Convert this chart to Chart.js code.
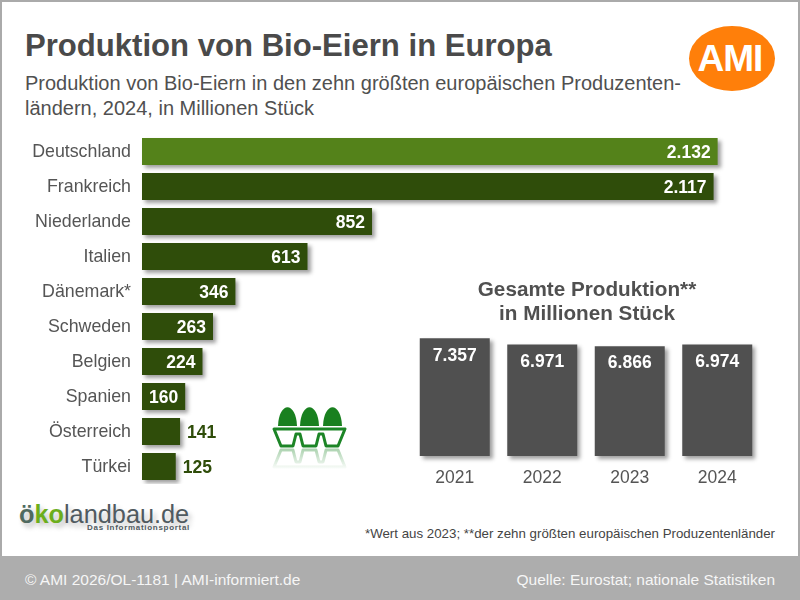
<!DOCTYPE html>
<html lang="de">
<head>
<meta charset="utf-8">
<title>Produktion von Bio-Eiern in Europa</title>
<script src="https://cdn.jsdelivr.net/npm/chart.js@4/dist/chart.umd.min.js"></script>
<style>
    html, body { margin: 0; padding: 0; background: #fff; }
    body { width: 800px; height: 600px; position: relative; overflow: hidden; font-family: "Liberation Sans", Arial, sans-serif; }
    .frame { position: absolute; left: 0; top: 0; width: 796px; height: 556px; border: 2px solid #aaa; border-bottom: 0; }
    .abs { position: absolute; white-space: nowrap; }
    #title { left: 25px; top: 28px; font-size: 31.1px; line-height: 36px; font-weight: bold; color: #4a4a4a; }
    #subtitle { left: 25px; top: 71px; font-size: 20px; line-height: 25px; color: #505050; }
    #logoBack { left: 689px; top: 26px; width: 86px; height: 65px; border-radius: 50%; background: #ff7f0a; }
    #logo { left: 687px; top: 26px; width: 86px; height: 65px; color: #fff; font-size: 37px; font-weight: bold; line-height: 65px; text-align: center; letter-spacing: -1px; }
    #totalTitle { left: 437px; width: 300px; top: 277px; font-size: 20.7px; line-height: 24px; font-weight: bold; color: #505050; text-align: center; }
    #note { right: 25px; top: 526px; font-size: 13.3px; line-height: 16px; color: #444; }
    #footer { left: 0; top: 556px; width: 800px; height: 44px; background: #adadad; }
    #footer span { position: absolute; top: 15px; font-size: 15.5px; line-height: 18px; color: #f6f6f6; white-space: nowrap; }
    #eko { left: 19px; top: 498px; font-size: 25.3px; line-height: 32px; color: #505a60; text-shadow: 3px 4px 5px rgba(0,0,0,.25); }
    #eko b { font-weight: bold; color: #6cae1c; }
    #eko i { font-style: normal; color: #4f6a60; font-weight: bold; }
    #ekoSub { left: 87px; top: 523px; font-size: 8px; line-height: 10px; font-weight: bold; letter-spacing: .7px; color: #505a60; }
    canvas { position: absolute; display: block; }
</style>
</head>
<body>
<div class="frame"></div>
<div class="abs" id="title">Produktion von Bio-Eiern in Europa</div>
<div class="abs" id="subtitle">Produktion von Bio-Eiern in den zehn größten europäischen Produzenten-<br>ländern, 2024, in Millionen Stück</div>
<div class="abs" id="logoBack"></div>
<div class="abs" id="logo">AMI</div>

<canvas id="countryChart" width="736" height="350" style="left:0;top:134px"></canvas>
<canvas id="totalChart" width="350" height="162" style="left:411px;top:328px"></canvas>

<div class="abs" id="totalTitle">Gesamte Produktion**<br>in Millionen Stück</div>

<!-- egg carton icon with its faded reflection -->
<svg class="abs" style="left:265px;top:400px" width="90" height="75" viewBox="265 400 90 75">
    <defs>
        <path id="tray" d="M274 429 L281 446 H293 L296 434 H300 L303 446 H316 L319 434 H323 L326 446 H338 L345 429 Z" fill="none" stroke="#1c8526" stroke-width="3" stroke-linejoin="round"/>
        <linearGradient id="fade" x1="0" y1="447" x2="0" y2="470" gradientUnits="userSpaceOnUse">
            <stop offset="0" stop-color="#fff" stop-opacity=".4"/>
            <stop offset="1" stop-color="#fff" stop-opacity="0"/>
        </linearGradient>
        <mask id="fadeMask"><rect x="265" y="447" width="90" height="28" fill="url(#fade)"/></mask>
    </defs>
    <path d="M278 426 C279 401 296 401 297 426 Z" fill="#19801f"/>
    <path d="M300 426 C301 401 318 401 319 426 Z" fill="#19801f"/>
    <path d="M323 426 C324 401 341 401 342 426 Z" fill="#19801f"/>
    <use href="#tray"/>
    <g mask="url(#fadeMask)"><use href="#tray" transform="matrix(1 0 0 -1 0 896)"/></g>
</svg>

<div class="abs" id="eko"><i>ö</i><b>ko</b>landbau.de</div>
<div class="abs" id="ekoSub">Das Informationsportal</div>
<div class="abs" id="note">*Wert aus 2023; **der zehn größten europäischen Produzentenländer</div>
<div class="abs" id="footer">
    <span style="left:25px">© AMI 2026/OL-1181 | AMI-informiert.de</span>
    <span style="right:25px">Quelle: Eurostat; nationale Statistiken</span>
</div>

<script>
const countries = ['Deutschland', 'Frankreich', 'Niederlande', 'Italien', 'Dänemark*', 'Schweden', 'Belgien', 'Spanien', 'Österreich', 'Türkei'];
const eggValues = [2132, 2117, 852, 613, 346, 263, 224, 160, 141, 125];
const years = ['2021', '2022', '2023', '2024'];
const totalValues = [7357, 6971, 6866, 6974];

const FONT = '"Liberation Sans", Arial, sans-serif';
const fmt = v => v.toLocaleString('de-DE');

// soft shadow under every bar
const barShadow = {
    id: 'barShadow',
    beforeDatasetsDraw(chart) {
        const c = chart.ctx;
        c.save();
        c.shadowColor = 'rgba(0,0,0,0.38)';
        c.shadowBlur = 4;
        c.shadowOffsetX = 3;
        c.shadowOffsetY = 3;
    },
    afterDatasetsDraw(chart) {
        chart.ctx.restore();
    }
};

// value labels: inside the bar end, or behind it when the bar is too short
const countryLabels = {
    id: 'countryLabels',
    afterDatasetsDraw(chart) {
        const c = chart.ctx;
        c.save();
        c.font = 'bold 17.5px ' + FONT;
        c.textBaseline = 'middle';
        chart.getDatasetMeta(0).data.forEach((bar, i) => {
            const outside = eggValues[i] < 150;
            c.textAlign = outside ? 'left' : 'right';
            c.fillStyle = outside ? '#2f4d0a' : '#fff';
            c.fillText(fmt(eggValues[i]), bar.x + (outside ? 7 : -7), bar.y + 1.5);
        });
        c.restore();
    }
};

const totalLabels = {
    id: 'totalLabels',
    afterDatasetsDraw(chart) {
        const c = chart.ctx;
        c.save();
        c.font = 'bold 17.5px ' + FONT;
        c.textAlign = 'center';
        c.textBaseline = 'middle';
        c.fillStyle = '#fff';
        chart.getDatasetMeta(0).data.forEach((bar, i) => {
            c.fillText(fmt(totalValues[i]), bar.x, bar.y + 17.5);
        });
        c.restore();
    }
};

new Chart(document.getElementById('countryChart'), {
    type: 'bar',
    data: {
        labels: countries,
        datasets: [{
            data: eggValues,
            backgroundColor: countries.map((c, i) => i === 0 ? '#54821a' : '#2f4d0a'),
            barPercentage: 27 / 35,
            categoryPercentage: 1,
            clip: false
        }]
    },
    options: {
        indexAxis: 'y',
        responsive: false,
        animation: false,
        layout: { padding: 0 },
        plugins: { legend: { display: false }, tooltip: { enabled: false } },
        scales: {
            x: { display: false, min: 0, max: 2200 },
            y: {
                // keep the plot the full canvas height, labels may run to its edge
                afterFit(scale) {
                    scale.width = 142;
                    scale.paddingTop = 0;
                    scale.paddingBottom = 0;
                },
                grid: { display: false, drawTicks: false },
                border: { display: false },
                ticks: { color: '#555', padding: 11, labelOffset: 1, font: { family: FONT, size: 17.8 } }
            }
        }
    },
    plugins: [barShadow, countryLabels]
});

new Chart(document.getElementById('totalChart'), {
    type: 'bar',
    data: {
        labels: years,
        datasets: [{
            data: totalValues,
            backgroundColor: '#505050',
            barPercentage: 0.8,
            categoryPercentage: 1,
            clip: false
        }]
    },
    options: {
        responsive: false,
        animation: false,
        layout: { padding: 0 },
        plugins: { legend: { display: false }, tooltip: { enabled: false } },
        scales: {
            y: { display: false, min: 0, max: 8000 },
            x: {
                afterFit(scale) { scale.height = 34; },
                grid: { display: false, drawTicks: false },
                border: { display: false },
                ticks: { color: '#555', padding: 12, font: { family: FONT, size: 17.5 } }
            }
        }
    },
    plugins: [barShadow, totalLabels]
});
</script>
</body>
</html>
